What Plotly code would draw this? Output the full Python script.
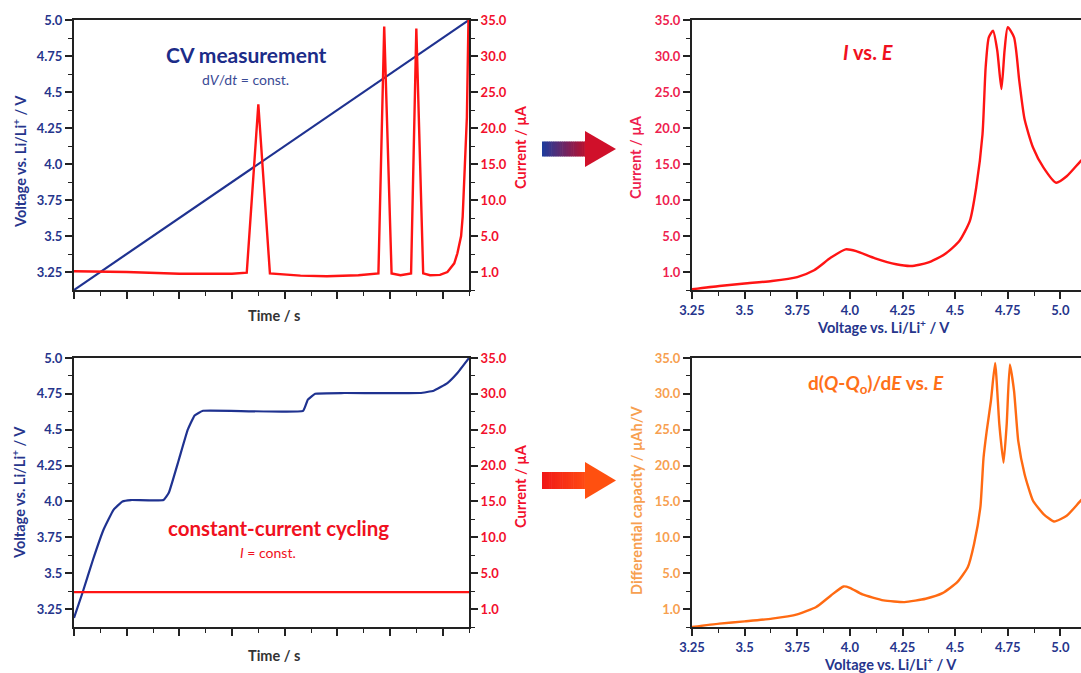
import plotly.graph_objects as go
import numpy as np

W, H = 1081, 673

# ---------------- data ----------------
# top-left: CV measurement (time in arbitrary units, axis has no labels)
cv_time_v = [0, 7.5]
cv_voltage = [3.125, 5.0]
cv_time_i = [0, 1.0, 2.0, 3.0, 3.28, 3.50, 3.72, 4.3, 4.8, 5.4, 5.78, 5.89, 6.03, 6.2, 6.40,
             6.50, 6.63, 6.76, 6.95, 7.09, 7.22, 7.28, 7.35, 7.38, 7.42, 7.46, 7.49]
cv_current = [0.1, 0.0, -0.25, -0.25, -0.1, 23.3, -0.2, -0.5, -0.6, -0.45, -0.2, 34.1, -0.2, -0.45, -0.2,
              33.8, -0.2, -0.45, -0.4, 0.0, 1.2, 2.6, 5.0, 7.7, 14.6, 21.5, 35.0]

# top-right: I vs E
ie_voltage = [3.25, 3.38, 3.5, 3.63, 3.75, 3.83, 3.91, 3.98, 4.03, 4.12, 4.22, 4.29, 4.37, 4.45,
              4.52, 4.57, 4.60, 4.63, 4.645, 4.66, 4.68, 4.70, 4.72, 4.735, 4.75, 4.78, 4.805,
              4.83, 4.87, 4.92, 4.98, 5.03, 5.09, 5.15]
ie_current = [-2.4, -1.94, -1.6, -1.25, -0.7, 0.24, 2.0, 3.15, 2.9, 1.9, 1.07, 0.83, 1.3, 2.46,
              4.3, 7.1, 11.7, 19.1, 28.4, 32.6, 33.5, 30.8, 25.4, 30.8, 34.0, 32.6, 26.5,
              21.2, 17.3, 14.5, 12.4, 13.3, 15.2, 17.0]

# bottom-left: constant-current cycling
cc_time = [0, 0.16, 0.36, 0.56, 0.75, 0.92, 1.08, 1.70, 1.80, 1.99, 2.16, 2.29, 2.45, 4.35,
           4.44, 4.58, 5.13, 6.57, 6.83, 7.09, 7.28, 7.5]
cc_voltage = [3.188, 3.362, 3.594, 3.803, 3.942, 4.0, 4.01, 4.01, 4.06, 4.29, 4.50, 4.60, 4.632,
              4.632, 4.71, 4.751, 4.756, 4.756, 4.772, 4.825, 4.895, 5.0]
cc_time_i = [0, 7.5]
cc_current = [2.36, 2.36]

# bottom-right: dQ/dE vs E
dq_voltage = [3.25, 3.38, 3.5, 3.63, 3.75, 3.84, 3.91, 3.97, 4.0, 4.06, 4.16, 4.26, 4.36, 4.44,
              4.51, 4.56, 4.59, 4.62, 4.635, 4.65, 4.67, 4.69, 4.71, 4.73, 4.745, 4.76, 4.78,
              4.80, 4.83, 4.87, 4.92, 4.97, 5.03, 5.09, 5.15]
dq_capacity = [-2.5, -2.03, -1.71, -1.33, -0.74, 0.28, 1.9, 3.15, 2.97, 2.04, 1.21, 0.97, 1.44, 2.22,
               3.75, 5.83, 9.08, 14.2, 21.1, 24.8, 29.0, 34.3, 25.75, 20.4, 25.75, 34.1, 30.4,
               23.4, 18.8, 15.1, 13.25, 12.2, 13.0, 14.9, 16.8]

# tick labels
v_tickvals = [3.25, 3.5, 3.75, 4.0, 4.25, 4.5, 4.75, 5.0]
v_ticktext = ["3.25", "3.5", "3.75", "4.0", "4.25", "4.5", "4.75", "5.0"]
i_tickvals = [0, 5, 10, 15, 20, 25, 30, 35]
i_ticktext = ["1.0", "5.0", "10.0", "15.0", "20.0", "25.0", "30.0", "35.0"]

# ---------------- styling ----------------
NAVY = "#26358c"
BLUE_LINE = "#1f3290"
RED = "#ff1414"
RED_TXT = "#f2102c"
PINK_TXT = "#ee1f4f"
ORANGE = "#ff6a12"
ORANGE_TXT = "#f7a050"
AX = "#222222"
FONT = "Lato"


def px(x):
    return x / W


def py(y):
    return 1 - y / H


xL = [px(74), px(469)]
xR = [px(692), 1.0]
yT = [py(290), py(20)]
yB = [py(627), py(358)]

fig = go.Figure()

fig.add_trace(go.Scatter(x=cv_time_v, y=cv_voltage, mode="lines", line=dict(color=BLUE_LINE, width=2.2),
                         xaxis="x", yaxis="y"))
fig.add_trace(go.Scatter(x=cv_time_i, y=cv_current, mode="lines", line=dict(color=RED, width=2.4),
                         xaxis="x", yaxis="y2"))
fig.add_trace(go.Scatter(x=ie_voltage, y=ie_current, mode="lines",
                         line=dict(color=RED, width=2.4, shape="spline", smoothing=0.6),
                         xaxis="x2", yaxis="y3"))
fig.add_trace(go.Scatter(x=cc_time, y=cc_voltage, mode="lines",
                         line=dict(color=BLUE_LINE, width=2.2, shape="spline", smoothing=0.3),
                         xaxis="x3", yaxis="y4"))
fig.add_trace(go.Scatter(x=cc_time_i, y=cc_current, mode="lines", line=dict(color=RED, width=2.4),
                         xaxis="x3", yaxis="y5"))
fig.add_trace(go.Scatter(x=dq_voltage, y=dq_capacity, mode="lines",
                         line=dict(color=ORANGE, width=2.4, shape="spline", smoothing=0.5),
                         xaxis="x4", yaxis="y6"))

TICKSIZE = 13


def time_axis(domain, anchor):
    return dict(domain=domain, anchor=anchor, range=[0, 7.5], showticklabels=False, automargin=False,
                ticks="outside", ticklen=7, tickwidth=1.5, tickcolor=AX, dtick=1, tick0=0,
                minor=dict(dtick=0.5, tick0=0, ticks="outside", ticklen=4, tickwidth=1.2, tickcolor=AX),
                showline=True, linecolor=AX, linewidth=2, mirror=True, showgrid=False, zeroline=False)


def volt_x_axis(domain, anchor):
    return dict(domain=domain, anchor=anchor, range=[3.25, 5.098], tickmode="array", automargin=False,
                tickvals=v_tickvals, ticktext=v_ticktext, ticks="outside", ticklen=7, tickwidth=1.5,
                tickcolor=AX,
                minor=dict(tickmode="array", tickvals=[3.375, 3.625, 3.875, 4.125, 4.375, 4.625, 4.875],
                           ticks="outside", ticklen=4, tickwidth=1.2, tickcolor=AX),
                tickfont=dict(family=FONT, size=TICKSIZE, color=NAVY, weight="bold"),
                showline=True, linecolor=AX, linewidth=2, mirror=True, showgrid=False, zeroline=False)


def volt_y_axis(domain, anchor):
    return dict(domain=domain, anchor=anchor, range=[3.125, 5.0], tickmode="array", automargin=False,
                tickvals=v_tickvals, ticktext=v_ticktext, ticks="outside", ticklen=7, tickwidth=1.5,
                tickcolor=AX,
                minor=dict(tickmode="array", tickvals=[3.375, 3.625, 3.875, 4.125, 4.375, 4.625, 4.875],
                           ticks="outside", ticklen=4, tickwidth=1.2, tickcolor=AX),
                tickfont=dict(family=FONT, size=TICKSIZE, color=NAVY, weight="bold"),
                showline=True, linecolor=AX, linewidth=2, showgrid=False, zeroline=False)


def cur_y_axis(domain, anchor, color, overlaying=None, side="left"):
    d = dict(anchor=anchor, range=[-2.5, 35], tickmode="array", automargin=False,
             tickvals=i_tickvals, ticktext=i_ticktext, ticks="outside", ticklen=7, tickwidth=1.5,
             tickcolor=AX,
             minor=dict(tickmode="array", tickvals=[-2.5, 2.5, 7.5, 12.5, 17.5, 22.5, 27.5, 32.5],
                        ticks="outside", ticklen=4, tickwidth=1.2, tickcolor=AX),
             tickfont=dict(family=FONT, size=TICKSIZE, color=color, weight="bold"),
             showline=True, linecolor=AX, linewidth=2, showgrid=False, zeroline=False, side=side)
    if overlaying:
        d["overlaying"] = overlaying
    else:
        d["domain"] = domain
    return d


fig.update_layout(
    width=W, height=H, margin=dict(l=0, r=0, t=0, b=0, autoexpand=False),
    paper_bgcolor="white", plot_bgcolor="white", showlegend=False,
    xaxis=time_axis(xL, "y"),
    yaxis=volt_y_axis(yT, "x"),
    yaxis2=cur_y_axis(None, "x", RED_TXT, overlaying="y", side="right"),
    xaxis2=volt_x_axis(xR, "y3"),
    yaxis3=cur_y_axis(yT, "x2", PINK_TXT),
    xaxis3=time_axis(xL, "y4"),
    yaxis4=volt_y_axis(yB, "x3"),
    yaxis5=cur_y_axis(None, "x3", RED_TXT, overlaying="y4", side="right"),
    xaxis4=volt_x_axis(xR, "y6"),
    yaxis6=cur_y_axis(yB, "x4", ORANGE_TXT),
)

# ---------------- annotations ----------------
ann = []


def add_text(x, y, text, size, color, bold=True, angle=0):
    ann.append(dict(xref="paper", yref="paper", x=px(x), y=py(y), text=text, showarrow=False,
                    xanchor="center", yanchor="middle", textangle=angle,
                    font=dict(family=FONT, size=size, color=color, weight="bold" if bold else "normal")))


add_text(246, 54, "CV measurement", 21, "#1c2c88")
add_text(245, 79, "d<i>V</i>/d<i>t</i> = const.", 14, "#3a4a95", bold=False)
add_text(868, 52, "<i>I</i> vs. <i>E</i>", 20, "#f01020")
add_text(876, 384, "d(<i>Q</i>-<i>Q</i><sub>o</sub>)/d<i>E</i> vs. <i>E</i>", 19, "#ff7018")
add_text(278, 528, "constant-current cycling", 20.5, "#f01020")
add_text(268, 552, "<i>I</i> = const.", 14, "#f01020", bold=False)

vtitle = "Voltage vs. Li/Li<sup>+</sup> / V"
add_text(19, 162, vtitle, 14.5, NAVY, angle=-90)
add_text(19, 493, vtitle, 14.5, NAVY, angle=-90)
add_text(520, 147, "Current / µA", 14.5, RED_TXT, angle=-90)
add_text(520, 486, "Current / µA", 14.5, RED_TXT, angle=-90)
add_text(635, 157, "Current / µA", 14.5, PINK_TXT, angle=-90)
add_text(636, 500, "Differential capacity / µAh/V", 14.5, ORANGE_TXT, angle=-90)
add_text(274, 315, "Time / s", 14.5, "#333333")
add_text(274, 655, "Time / s", 14.5, "#333333")
add_text(883, 326, vtitle, 14.5, NAVY)
add_text(890, 663, vtitle, 14.5, NAVY)

# ---------------- arrows (gradient shaft + head) ----------------
shapes = []


def mix(c1, c2, f):
    a = [int(c1[i:i + 2], 16) for i in (1, 3, 5)]
    b = [int(c2[i:i + 2], 16) for i in (1, 3, 5)]
    return "#%02x%02x%02x" % tuple(int(round(a[k] + (b[k] - a[k]) * f)) for k in range(3))


def arrow(x0, x1, xt, yc, shaft_h, head_h, c_start, c_end, c_head):
    n = 24
    for k in range(n):
        xa = x0 + (x1 - x0) * k / n
        xb = x0 + (x1 - x0) * (k + 1) / n + 0.6
        shapes.append(dict(type="rect", xref="paper", yref="paper", x0=px(xa), x1=px(xb),
                           y0=py(yc + shaft_h / 2), y1=py(yc - shaft_h / 2),
                           fillcolor=mix(c_start, c_end, k / (n - 1)), line=dict(width=0), layer="above"))
    path = "M %f %f L %f %f L %f %f Z" % (px(x1 - 1), py(yc - head_h / 2), px(xt), py(yc),
                                          px(x1 - 1), py(yc + head_h / 2))
    shapes.append(dict(type="path", xref="paper", yref="paper", path=path, fillcolor=c_head,
                       line=dict(width=0), layer="above"))


arrow(542, 586, 616, 149, 15, 36, "#203c9c", "#b8102e", "#d0102a")
arrow(542, 586, 616, 480.5, 17, 37, "#f01818", "#ff4a12", "#ff5010")

fig.update_layout(annotations=ann, shapes=shapes)

fig.write_html("out.html")
